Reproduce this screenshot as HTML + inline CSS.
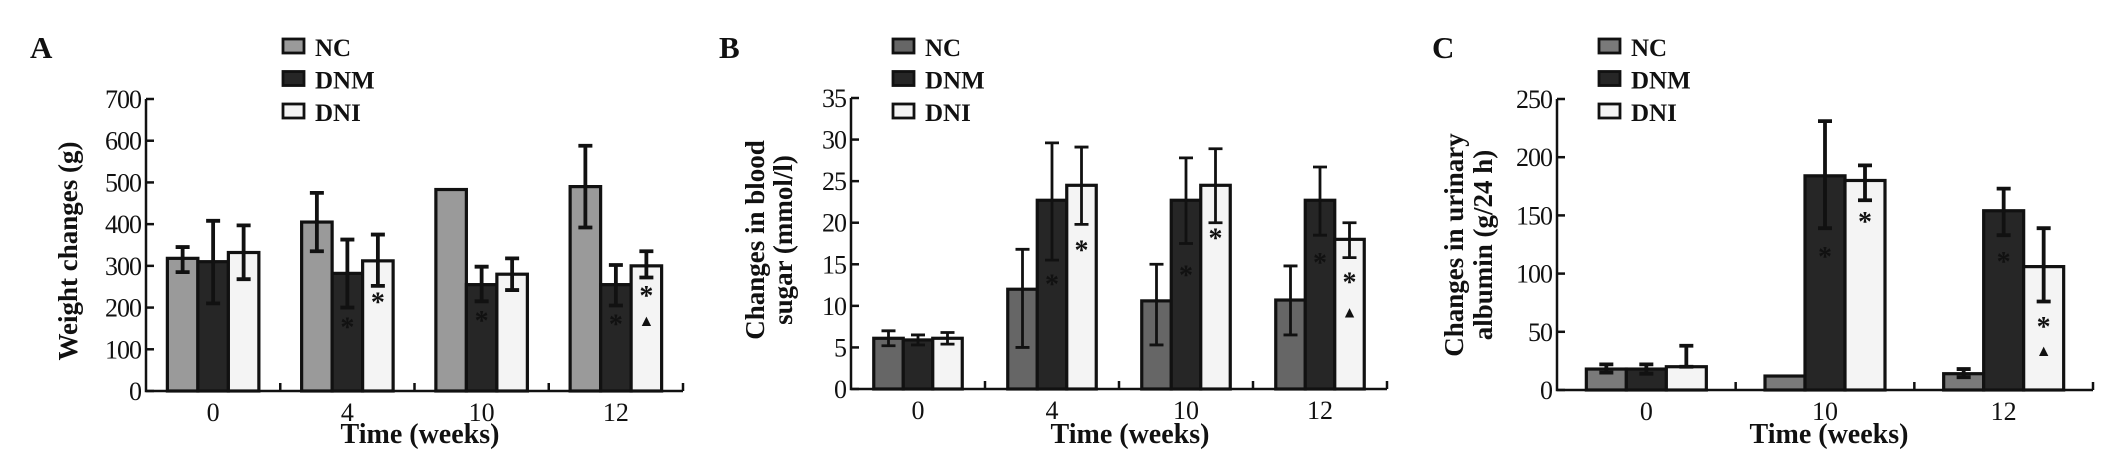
<!DOCTYPE html>
<html><head><meta charset="utf-8"><style>
body{margin:0;background:#fff}
svg{display:block}
text{font-family:"Liberation Serif",serif;fill:#111}
</style></head><body>
<svg id="fig" width="2126" height="468" viewBox="0 0 2126 468"></svg>
<script>
// Panel A data
const catsA = ["0","4","10","12"];
const ncA = [318,405,483,490];
const ncAlo = [285,335,483,392], ncAhi = [345,475,483,588];
const dnmA = [310,282,255,255];
const dnmAlo = [210,200,215,205], dnmAhi = [408,363,298,302];
const dniA = [332,312,280,300];
const dniAlo = [268,252,242,272], dniAhi = [397,375,318,335];
const ticksA = [0,100,200,300,400,500,600,700];
// Panel B data
const catsB = ["0","4","10","12"];
const ncB = [6.1,12,10.6,10.7];
const ncBlo = [5.2,5,5.3,6.5], ncBhi = [7.0,16.8,15,14.8];
const dnmB = [5.9,22.7,22.7,22.7];
const dnmBlo = [5.3,15.5,17.5,18.5], dnmBhi = [6.5,29.6,27.8,26.7];
const dniB = [6.1,24.5,24.5,18];
const dniBlo = [5.4,19.8,20,15.8], dniBhi = [6.8,29.1,28.9,20];
const ticksB = [0,5,10,15,20,25,30,35];
// Panel C data
const catsC = ["0","10","12"];
const ncC = [18,12,14];
const ncClo = [15,12,11], ncChi = [22,12,18];
const dnmC = [18,184,154];
const dnmClo = [14,139,133], dnmChi = [22,231,173];
const dniC = [20,180,106];
const dniClo = [20,163,76], dniChi = [38,193,139];
const ticksC = [0,50,100,150,200,250];

const NS = "http://www.w3.org/2000/svg";
const svg = document.getElementById("fig");
function mk(tag, attrs, parent){
  const e = document.createElementNS(NS, tag);
  for (const k in attrs) e.setAttribute(k, attrs[k]);
  (parent||svg).appendChild(e);
  return e;
}

function panel(p){
  const g = mk("g", {});
  
  
  const y = v => p.y0 - (v / p.max) * (p.y0 - p.yTop);
  const n = p.cats.length;
  const step = (p.xEnd - p.x0) / n;
  const xc = i => p.x0 + step * (i + 0.5);
  const ax = mk("path", {d:`M${p.x0} ${p.yTop} V${p.y0} H${p.xEnd}`, stroke:"#111", "stroke-width":2.5, fill:"none"}, g);
  
  
  p.ticks.forEach(t => {
    mk("line", {x1:p.x0, x2:p.x0+8, y1:y(t), y2:y(t), stroke:"#111", "stroke-width":2.5}, g);
    const tl = mk("text", {x:p.x0-5, y:y(t)+9, "text-anchor":"end", "font-size":26, "letter-spacing":"-1"}, g);
    tl.textContent = t;
    
    
  });
  for (let i=1;i<=n;i++){
    const xx = p.x0 + step*i;
    mk("line", {x1:xx, x2:xx, y1:p.y0, y2:p.y0-8, stroke:"#111", "stroke-width":2.5}, g);
  }
  p.cats.forEach((c,i) => {
    const tl = mk("text", {x:xc(i), y:p.y0+30, "text-anchor":"middle", "font-size":26}, g);
    tl.textContent = c;
    
    
  });
  const bw = p.bw;
  p.series.forEach((s, si) => {
    s.vals.forEach((v,i) => {
      const bx = xc(i) + (si - 1.5) * bw;
      const r = mk("rect", {x:bx, y:y(v), width:bw, height:p.y0 - y(v), fill:s.color, stroke:"#111", "stroke-width":3.2}, g);
      
      
      const cx = bx + bw/2;
      if (s.hi[i] !== s.lo[i]) {
        const eb = mk("path", {d:`M${cx} ${y(s.lo[i])} V${y(s.hi[i])} M${cx-7} ${y(s.hi[i])} H${cx+7} M${cx-7} ${y(s.lo[i])} H${cx+7}`, stroke:"#111", "stroke-width":p.ebw, fill:"none"}, g);
        
        
      }
    });
  });
  p.marks.forEach(m => {
    const bx = xc(m[1]) + (m[0] - 1.5) * bw + bw/2;
    const t = mk("text", {x:bx, y:y(m[2])+10, "text-anchor":"middle", "font-size":m[3]==="*"?28:16, "font-weight":"bold"}, g);
    t.textContent = m[3];
    
    
  });
  p.series.forEach((s, si) => {
    const ly = 39 + si*32.5;
    const lr = mk("rect", {x:p.legX, y:ly, width:21, height:14, fill:s.color, stroke:"#111", "stroke-width":2.8}, g);
    
    
    const lt = mk("text", {x:p.legX+32, y:ly+17, "font-size":25, "font-weight":"bold"}, g);
    lt.textContent = s.name;
    
    
  });
  const L = mk("text", {x:p.letterX, y:58, "font-size":31, "font-weight":"bold"}, g);
  L.textContent = p.id;
  
  
  const xt = mk("text", {x:p.xTitleX, y:443, "text-anchor":"middle", "font-size":28, "font-weight":"bold"}, g);
  xt.textContent = "Time (weeks)";
  
  
  p.yTitle.forEach((line, li) => {
    const tx = p.yTitleX[li];
    const yt = mk("text", {x:tx, y:p.yTitleY, "text-anchor":"middle", "font-size":27, "font-weight":"bold", transform:`rotate(-90 ${tx} ${p.yTitleY})`}, g);
    yt.textContent = line;
    
    
  });
}

panel({id:"A", x0:146, xEnd:683, y0:391, yTop:99, max:700, ticks:ticksA, cats:catsA, bw:30.5, ebw:3.8,
  series:[{name:"NC",color:"#9a9a9a",vals:ncA,lo:ncAlo,hi:ncAhi},{name:"DNM",color:"#262626",vals:dnmA,lo:dnmAlo,hi:dnmAhi},{name:"DNI",color:"#f4f4f4",vals:dniA,lo:dniAlo,hi:dniAhi}],
  marks:[[1,1,155,"*"],[2,1,215,"*"],[1,2,170,"*"],[1,3,162,"*"],[2,3,230,"*"],[2,3,180,"▲"]],
  legX:283, letterX:30, xTitleX:420, yTitle:["Weight changes (g)"], yTitleX:[77], yTitleY:251});
panel({id:"B", x0:851, xEnd:1387, y0:389, yTop:98, max:35, ticks:ticksB, cats:catsB, bw:29.5, ebw:2.8,
  series:[{name:"NC",color:"#666",vals:ncB,lo:ncBlo,hi:ncBhi},{name:"DNM",color:"#262626",vals:dnmB,lo:dnmBlo,hi:dnmBhi},{name:"DNI",color:"#f4f4f4",vals:dniB,lo:dniBlo,hi:dniBhi}],
  marks:[[1,1,12.7,"*"],[2,1,16.8,"*"],[1,2,13.8,"*"],[2,2,18.2,"*"],[1,3,15.3,"*"],[2,3,12.9,"*"],[2,3,9.8,"▲"]],
  legX:893, letterX:719, xTitleX:1130, yTitle:["Changes in blood","sugar (mmol/l)"], yTitleX:[764,792], yTitleY:240});
panel({id:"C", x0:1557, xEnd:2093, y0:390, yTop:99, max:250, ticks:ticksC, cats:catsC, bw:40, ebw:3.8,
  series:[{name:"NC",color:"#7a7a7a",vals:ncC,lo:ncClo,hi:ncChi},{name:"DNM",color:"#262626",vals:dnmC,lo:dnmClo,hi:dnmChi},{name:"DNI",color:"#f4f4f4",vals:dniC,lo:dniClo,hi:dniChi}],
  marks:[[1,1,115,"*"],[2,1,145,"*"],[1,2,111,"*"],[2,2,55,"*"],[2,2,38,"▲"]],
  legX:1599, letterX:1432, xTitleX:1829, yTitle:["Changes in urinary","albumin (g/24 h)"], yTitleX:[1463,1492], yTitleY:245});
</script>
</body></html>
